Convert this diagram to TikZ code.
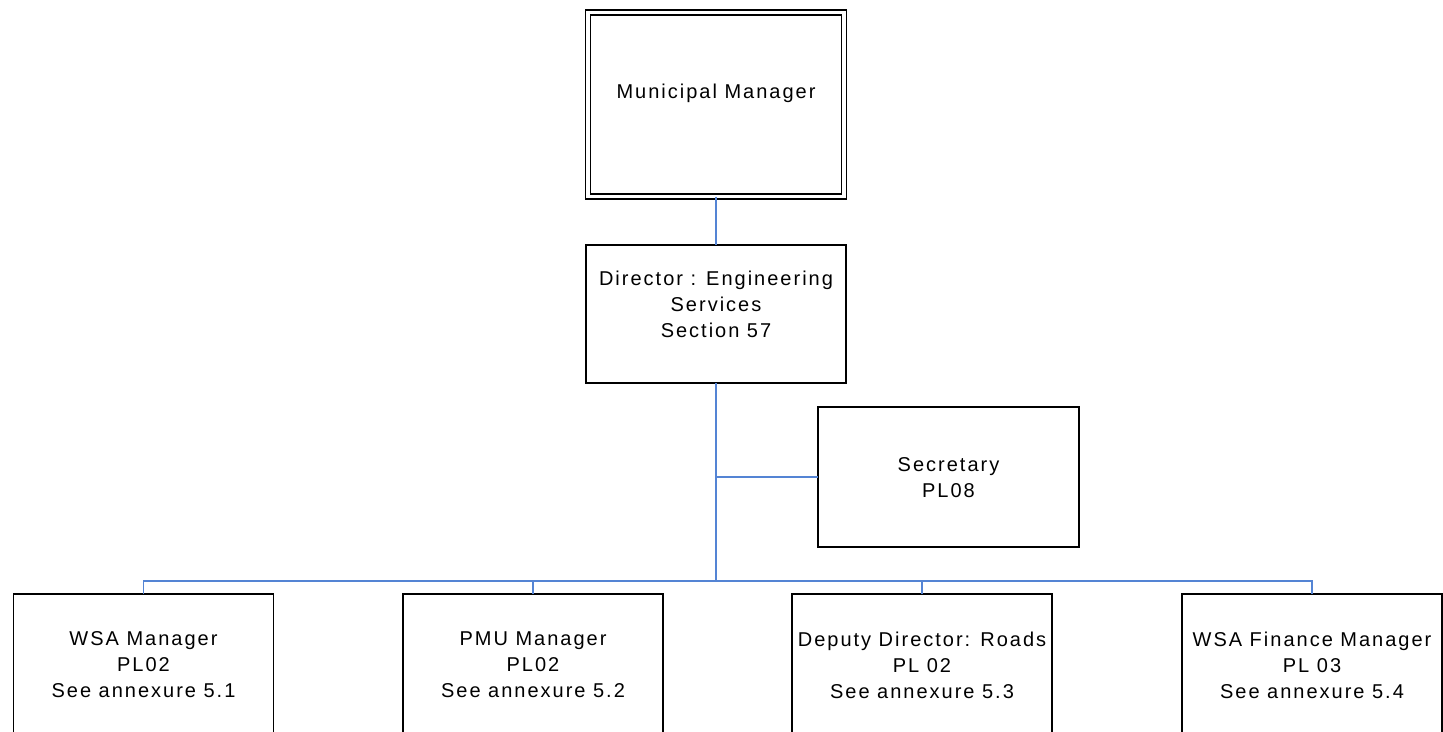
\documentclass[tikz,border=0pt]{standalone}
\usepackage{fontspec}
\newfontfamily\chartfont[LetterSpace=10]{Liberation Sans}
\definecolor{linkblue}{RGB}{84,132,212}
\begin{document}
\begin{tikzpicture}[x=1pt,y=-1pt,
  box/.style={draw=black, line width=1.8pt, fill=white, rectangle, inner sep=0pt, outer sep=0pt},
  label/.style={align=center, inner sep=0pt, font=\chartfont\fontsize{20}{26}\selectfont},
  conn/.style={draw=linkblue, line width=1.6pt}]
  \useasboundingbox (0,0) rectangle (1443,731);
  \fill[white] (0,0) rectangle (1443,731);
  \clip (0,0) rectangle (1443,731);

  % top of the hierarchy, double border
  \node[box, double=white, double distance=3.2pt, line width=1.6pt,
        minimum width=256pt, minimum height=184pt] (mm) at (716,104.5) {};
  \node[label] (mmtext) at (716,93) {Municipal Manager};

  \node[box, minimum width=260pt, minimum height=138pt] (dir) at (716,314) {};
  \node[label] (dirtext) at (716,304) {Director : Engineering\\Services\\Section 57};

  \node[box, minimum width=261pt, minimum height=140pt] (sec) at (948.5,477) {};
  \node[label] (sectext) at (948.5,478) {Secretary\\PL08};

  % four managers, boxes run past the lower edge
  \node[box, minimum width=260pt, minimum height=206pt] (wsa) at (143.5,697) {};
  \node[box, minimum width=260pt, minimum height=206pt] (pmu) at (533,697) {};
  \node[box, minimum width=260pt, minimum height=206pt] (dep) at (922,697) {};
  \node[box, minimum width=260pt, minimum height=206pt] (fin) at (1312,697) {};
  \node[label] (wsatext) at (143.5,665) {WSA Manager\\PL02\\See annexure 5.1};
  \node[label] (pmutext) at (533,665) {PMU Manager\\PL02\\See annexure 5.2};
  \node[label] (deptext) at (922,665) {Deputy Director: Roads\\PL 02\\See annexure 5.3};
  \node[label] (fintext) at (1312,665) {WSA Finance Manager\\PL 03\\See annexure 5.4};

  % connectors
  \coordinate (bus) at (716,581);
  \draw[conn] (mm.south) -- (dir.north);
  \draw[conn] (dir.south) -- (bus);
  \draw[conn] (dir.south |- sec.west) -- (sec.west);
  \draw[conn] (wsa.north) |- (bus) -| (fin.north);
  \draw[conn] (pmu.north) -- (pmu.north |- bus);
  \draw[conn] (dep.north) -- (dep.north |- bus);
\end{tikzpicture}
\end{document}
